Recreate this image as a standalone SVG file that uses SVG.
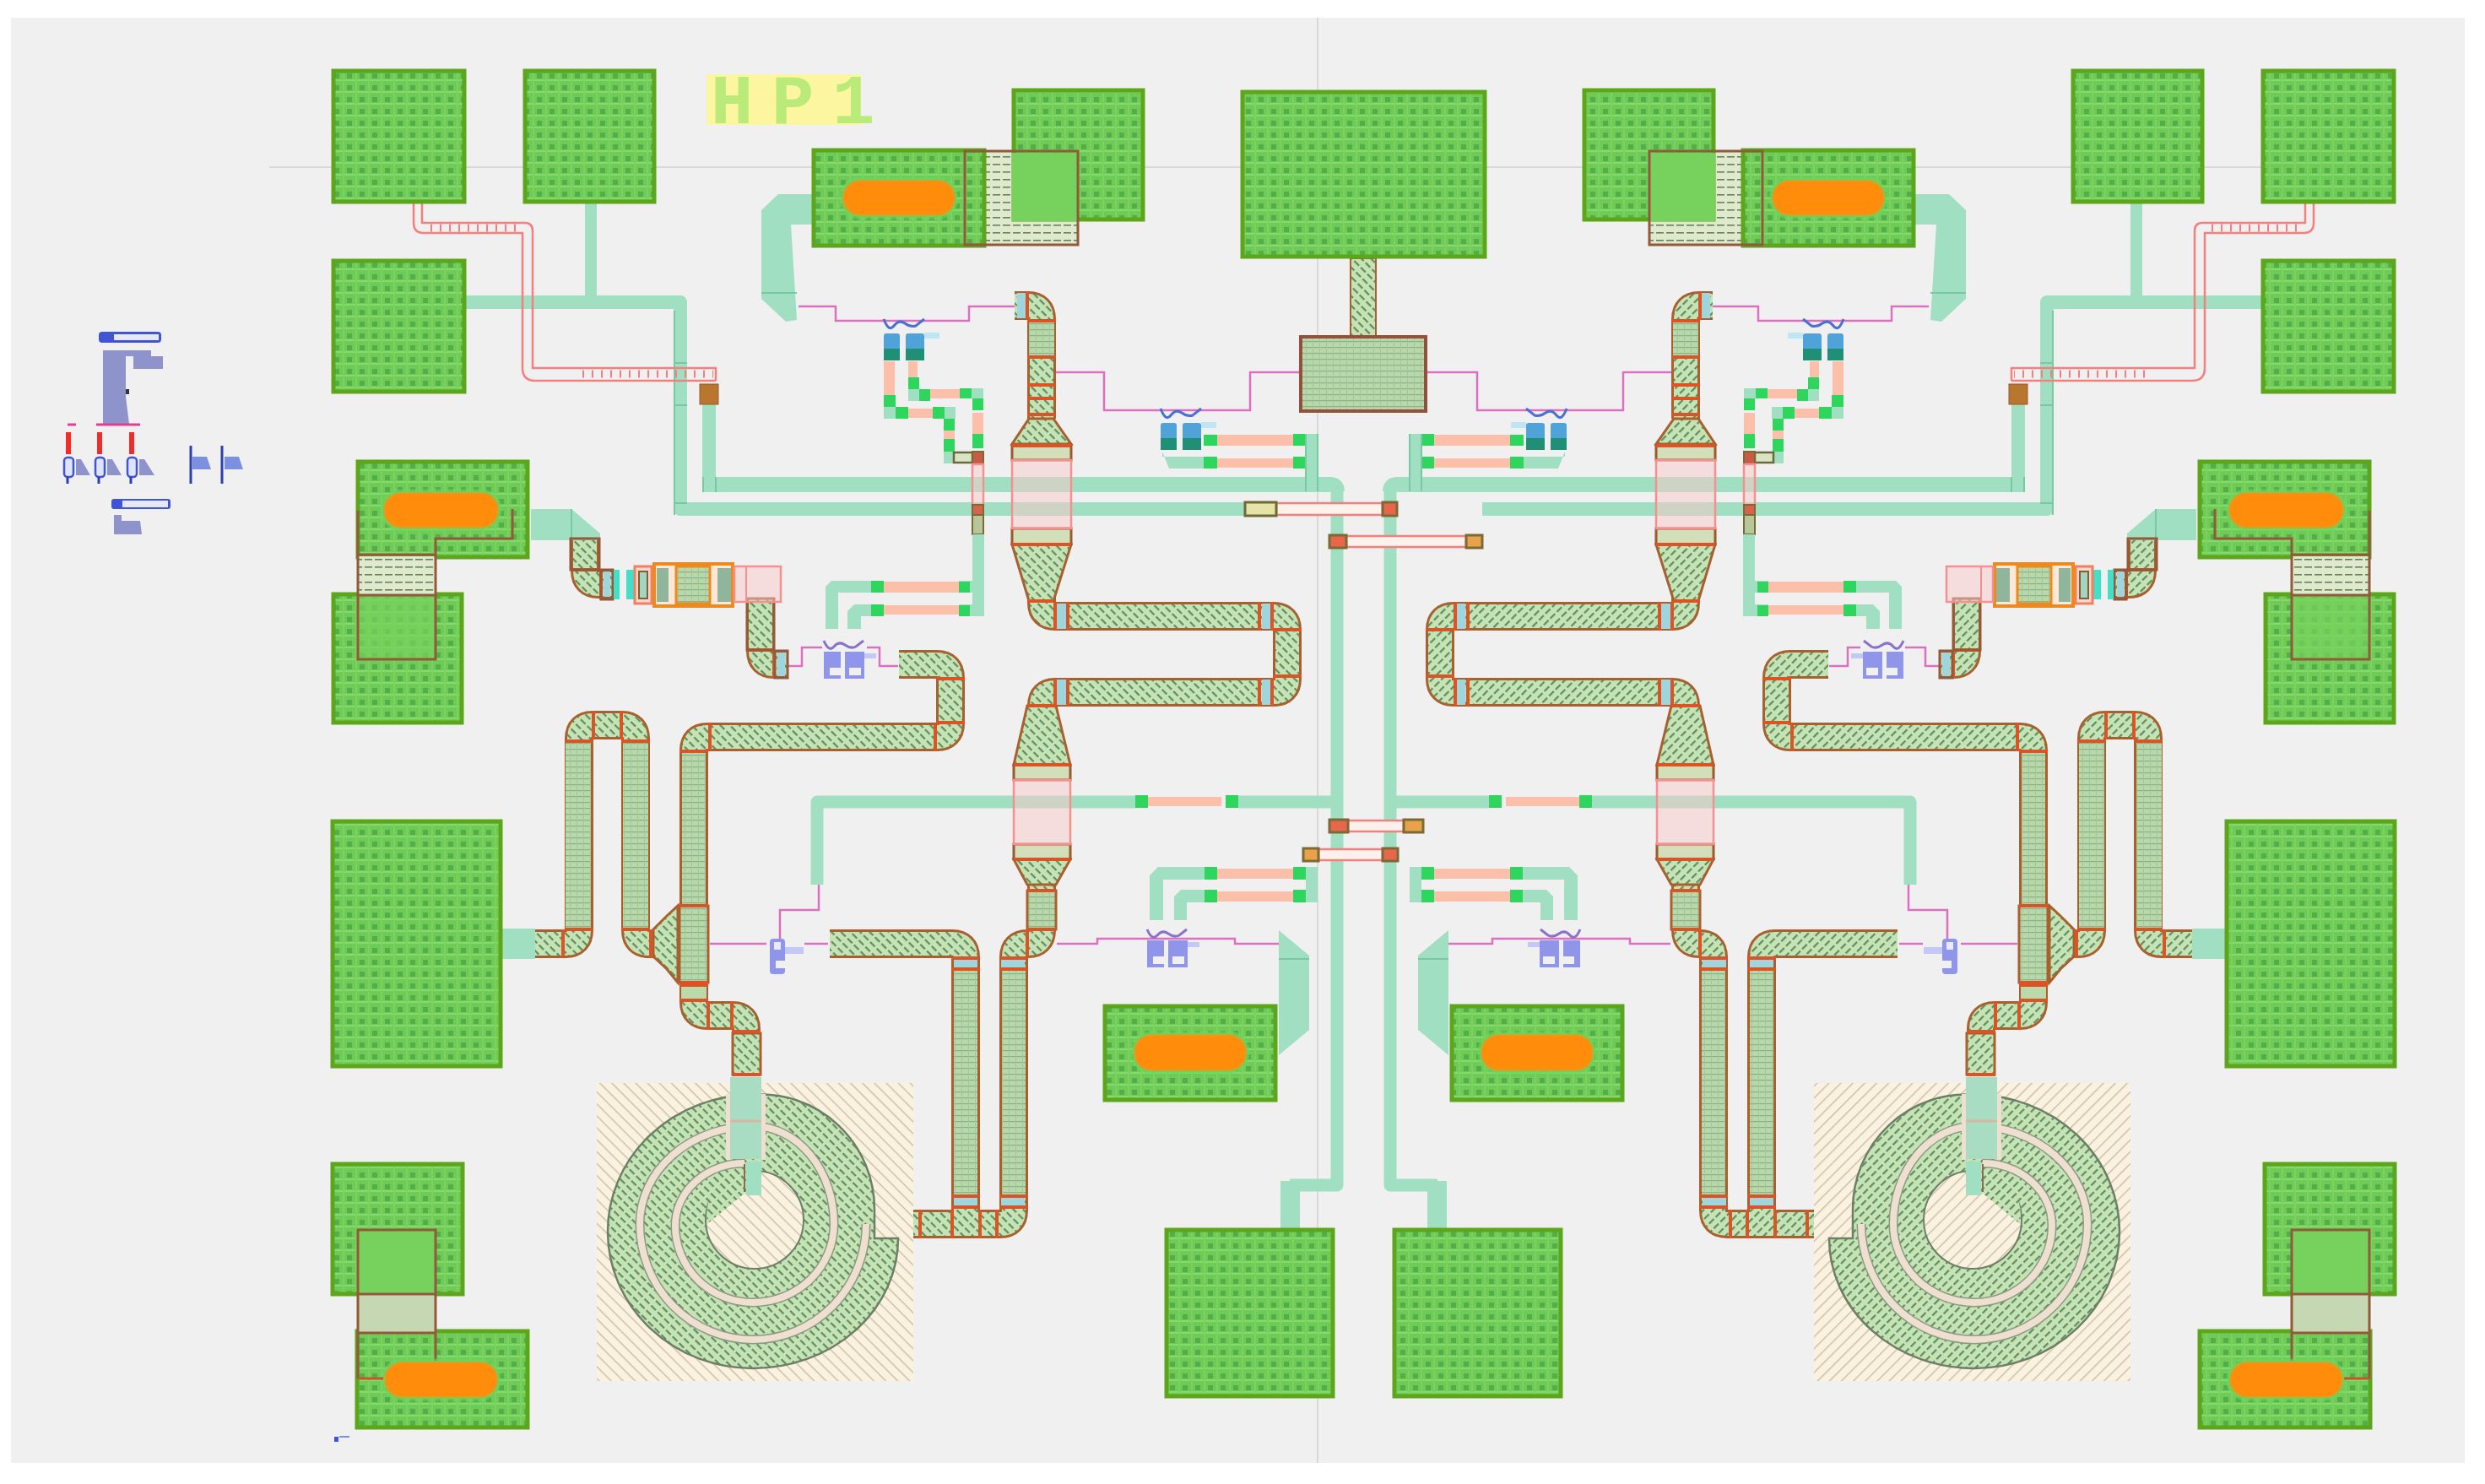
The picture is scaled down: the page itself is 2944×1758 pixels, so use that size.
<svg xmlns="http://www.w3.org/2000/svg" xmlns:xlink="http://www.w3.org/1999/xlink" width="2944" height="1758" viewBox="0 0 2944 1758">
<style>
.pad{fill:url(#p);stroke:#5da61b;stroke-width:5}
.pill{fill:#ff8c0a;stroke:#58e06a;stroke-width:5;stroke-opacity:.55}
.t{fill:#a0dfc1}
.ts{fill:none;stroke:#a0dfc1;stroke-linejoin:round}
.edge{fill:none;stroke:#77c9a2;stroke-width:2}
.gr{fill:#2ed65e}
.sa{fill:#fbbfaa}
.hatch{fill:url(#h);stroke:#a9602f;stroke-width:3}
.grid{fill:url(#g);stroke:#a9602f;stroke-width:3}
.div{stroke:#dc5426;stroke-width:4;fill:none}
.blu{fill:#9fd5dc}
.pk{fill:none;stroke:#dd6fc0;stroke-width:2.5}
.pw{fill:#fbc9c9;fill-opacity:.5;stroke:#f59090;stroke-width:2.5}
.band{fill:#d2dfb9;stroke:#9c5a2e;stroke-width:3}
.box{fill:none;stroke:#94593a;stroke-width:3}
.rail{fill:none;stroke:#f47f7f;stroke-width:2.5}
.rl{fill:#fdf1ec}
.rb{fill:#e8674a;stroke:#7a6a35;stroke-width:3}
.leg{fill:#8f93cc}
.lb{fill:#3f55d6}
</style>
<defs>
<pattern id="p" width="15" height="14" patternUnits="userSpaceOnUse">
<rect width="15" height="14" fill="#6fcb55"/><rect y="10" width="15" height="2" fill="#86da6c"/><rect x="1" width="2" height="14" fill="#7bd261"/><rect x="6" y="3" width="6" height="6" fill="#3f9a45" fill-opacity=".6"/>
</pattern>
<pattern id="h" width="11" height="8" patternUnits="userSpaceOnUse" patternTransform="rotate(45)">
<rect width="11" height="8" fill="#c6e3b5"/><rect y="3" width="8" height="2.2" fill="#5f8d60"/>
</pattern>
<pattern id="g" width="8" height="7" patternUnits="userSpaceOnUse">
<rect width="8" height="7" fill="#b8d8a9"/><rect y="5" width="8" height="1.2" fill="#8bb089"/><rect x="3" width="1" height="7" fill="#a4c79a"/>
</pattern>
<pattern id="sq" width="12" height="9" patternUnits="userSpaceOnUse">
<rect width="12" height="9" fill="#dfe9cc"/><rect y="5" width="9" height="1.6" fill="#6a7f62"/>
</pattern>
<pattern id="b" width="10" height="10" patternUnits="userSpaceOnUse" patternTransform="rotate(45)">
<rect width="10" height="10" fill="#fbf1df"/><rect y="4" width="10" height="1.4" fill="#c8bda6"/>
</pattern>
<g id="fetU">
<path d="M2 0 Q8 16 14 8 T27 5 T40 8 L50 0" fill="none" stroke="#4c6fd2" stroke-width="3"/>
<rect x="2" y="17" width="19" height="32" rx="3" fill="#4fa3d8"/><rect x="2" y="35" width="19" height="14" fill="#1f8f76"/>
<rect x="28" y="17" width="22" height="32" rx="3" fill="#4fa3d8"/><rect x="28" y="35" width="22" height="14" fill="#1f8f76"/>
<rect x="50" y="16" width="18" height="7" fill="#bfe6f5"/>
</g>
<g id="fetL">
<path d="M2 0 Q8 14 14 7 T27 5 T40 7 L49 0" fill="none" stroke="#8a72cc" stroke-width="3"/>
<rect x="2" y="13" width="20" height="32" fill="#8f95e8"/><rect x="27" y="13" width="23" height="32" fill="#8f95e8"/>
<rect x="9" y="32" width="13" height="9" fill="#f0f0f0"/><rect x="32" y="32" width="14" height="9" fill="#f0f0f0"/>
<rect x="50" y="15" width="14" height="6" fill="#c3c8f5"/>
</g>
<g id="tr" fill="none">
<path d="M634 1118 H670 Q686 1118 686 1102 V875 Q686 859 702 859 H737 Q753 859 753 875 V1102 Q753 1118 769 1118 H775"/>
<path d="M884 1273 V1219 Q884 1203 868 1203 H838 Q822 1203 822 1187 V889 Q822 873 838 873 H1110 Q1126 873 1126 857 V803 Q1126 787 1110 787 H1065"/>
<path d="M901 709 V771 Q901 787 917 787 H932"/>
<path d="M693 640 V676 Q693 692 709 692 H726"/>
<path d="M1202 362 H1218 Q1234 362 1234 378 V496"/>
<path d="M1234 700 V714 Q1234 730 1250 730 H1509 Q1525 730 1525 746 V804 Q1525 820 1509 820 H1250 Q1234 820 1234 836 V840"/>
<path d="M1234 1048 V1102 Q1234 1118 1218 1118 H1217 Q1201 1118 1201 1134 V1434 Q1201 1450 1185 1450 H1036"/>
<path d="M983 1118 H1128 Q1144 1118 1144 1134 V1450"/>
</g>
<g id="half">
<!-- teal buses -->
<g id="buses">
<path class="ts" stroke-width="16" d="M552 358 H806 V603 H1475"/>
<path class="ts" stroke-width="14" d="M700 241 V358"/>
<path class="ts" stroke-width="16" d="M840 479 V574"/>
<path class="ts" stroke-width="18" d="M833 574 H1576 Q1584 574 1584 582"/>
<path class="ts" stroke-width="15" d="M1584 575 V1404 H1528"/>
<rect class="t" x="1517" y="1399" width="23" height="56"/>
<path class="ts" stroke-width="15" d="M968 1048 V950 H1345"/>
<path class="ts" stroke-width="15" d="M1467 950 H1584"/>
<path class="t" d="M950 230 H963 V266 H937 L944 379 L931 381 L902 354 V249 L922 230 Z"/>
<path class="edge" d="M902 347 H944"/>
<path class="t" d="M595 1100 H634 V1136 H595 Z"/>
<path class="t" d="M629 603 H677 L711 632 V640 H629 Z"/>
<path class="edge" d="M677 603 V640"/>
<path class="edge" d="M799 368 V610 M799 596 H814 M799 480 H814 M799 430 H814 M833 565 V583 M848 565 V583"/>
</g>
<!-- pink feed lines -->
<path class="pk" d="M946 363 H990 V380 H1148 V363 H1202"/>
<path class="pk" d="M1251 441 H1308 V486 H1481 V441 H1541"/>
<path class="pk" d="M932 789 H950 V767 H974 M1027 767 H1042 V789 H1064"/>
<path class="pk" d="M841 1118 H908 M953 1118 H981 M924 1112 V1078 H970 V1048"/>
<path class="pk" d="M1252 1118 H1300 V1112 H1463 V1118 H1517"/>
<!-- top-left double rail -->
<g id="rail-tl">
<path class="rail" d="M490 209 V264 Q490 276 502 276 H619 V436 Q619 451 634 451 H848"/>
<path class="rail" d="M500 209 V264 H622 Q631 264 631 274 V436 H848 V451"/>
<path d="M510 270 H612 M690 443 H845" stroke="#f47f7f" stroke-width="9" stroke-dasharray="2 9" fill="none"/>
<rect x="829" y="455" width="22" height="24" fill="#b8762f" stroke="#9a5a28"/>
</g>
<!-- pads -->
<g id="pad-a"><rect class="pad" x="395" y="84" width="155" height="155"/></g>
<g id="pad-b"><rect class="pad" x="622" y="84" width="153" height="155"/></g>
<g id="pad-c"><rect class="pad" x="395" y="309" width="155" height="155"/></g>
<g id="pad-big"><rect class="pad" x="394" y="973" width="199" height="290"/></g>
<g id="pad-cs"><rect class="pad" x="1309" y="1192" width="202" height="111"/><rect class="pill" x="1342" y="1224" width="136" height="46" rx="22"/></g>
<g id="pad-bt"><rect class="pad" x="1382" y="1457" width="197" height="197"/></g>
<path class="t" d="M1515 1102 L1551 1132 V1220 L1515 1250 Z"/>
<path class="edge" d="M1515 1136 H1551"/>
<!-- orange pad upper left -->
<g id="pad-l1">
<rect class="pad" x="395" y="704" width="152" height="152"/>
<rect x="425" y="705" width="91" height="76" fill="#76d25c" fill-opacity=".7"/>
<rect class="pad" x="424" y="547" width="201" height="113"/>
<rect x="425" y="659" width="91" height="46" fill="url(#sq)"/>
<path class="box" d="M424 605 V781 H516 V638 H607 V603"/>
<path class="box" d="M424 657 H516 M424 705 H516" stroke="#5d8a30"/>
<rect class="pill" x="453" y="582" width="139" height="45" rx="22"/>
</g>
<!-- orange pad lower left -->
<g id="pad-l2">
<rect class="pad" x="394" y="1379" width="154" height="154"/>
<rect x="425" y="1457" width="90" height="76" fill="#76d25c"/>
<rect class="pad" x="423" y="1577" width="202" height="114"/>
<rect x="425" y="1533" width="91" height="46" fill="#c5d7b3"/>
<path class="box" d="M424 1633 V1457 H516 V1612 M424 1533 H516 M424 1579 H516"/>
<rect class="pill" x="454" y="1612" width="137" height="45" rx="22"/>
<path d="M424 1633 H454" stroke="#d0502a" stroke-width="3"/>
</g>
<!-- top orange pad -->
<g id="pad-t1">
<rect x="1168" y="179" width="109" height="111" fill="url(#sq)"/>
<rect class="pad" x="1201" y="107" width="153" height="153"/>
<rect class="pad" x="964" y="178" width="202" height="113"/>
<rect x="1199" y="181" width="78" height="81" fill="#76d25c"/>
<rect class="box" x="1143" y="179" width="134" height="111"/>
<rect class="pill" x="997" y="212" width="136" height="45" rx="22"/>
</g>
<!-- meander tracks -->
<g id="tracks">
<use xlink:href="#tr" href="#tr" stroke="#a9602f" stroke-width="34"/>
<use xlink:href="#tr" href="#tr" stroke="url(#h)" stroke-width="28"/>
<rect x="670" y="878" width="30" height="223" fill="url(#g)"/><rect x="738" y="878" width="30" height="223" fill="url(#g)"/>
<rect x="808" y="890" width="28" height="182" fill="url(#g)"/><rect x="1187" y="1148" width="28" height="268" fill="url(#g)"/><rect x="1130" y="1148" width="28" height="268" fill="url(#g)"/>
<rect x="1219" y="382" width="30" height="40" fill="url(#g)"/>
<path class="hatch" d="M774 1101 L790 1085 L803 1073 V1164 L790 1148 L774 1133 Z"/>
<rect class="grid" x="805" y="1073" width="34" height="91"/>
<rect x="807" y="1167" width="30" height="18" fill="#bcd9ac"/>
<rect class="hatch" x="868" y="1224" width="33" height="49"/>
<path class="hatch" d="M1219 496 H1248 L1269 526 H1199 Z"/>
<path class="hatch" d="M1199 645 H1269 L1248 712 H1219 Z"/>
<path class="hatch" d="M1217 836 H1251 L1268 906 H1201 Z"/>
<path class="hatch" d="M1201 1018 H1268 L1251 1048 H1217 Z"/>
<rect class="grid" x="1217" y="1055" width="34" height="46"/>
<rect class="band" x="1199" y="528" width="70" height="17"/><rect class="band" x="1199" y="626" width="70" height="19"/>
<rect class="band" x="1201" y="906" width="67" height="18"/><rect class="band" x="1201" y="1000" width="67" height="18"/>
<rect class="pw" x="1199" y="545" width="70" height="81"/><rect class="pw" x="1201" y="924" width="67" height="76"/>
<rect class="blu" x="1205" y="347" width="10" height="30"/>
<rect class="blu" x="1252" y="715" width="11" height="30"/><rect class="blu" x="1495" y="715" width="10" height="30"/>
<rect class="blu" x="1252" y="805" width="11" height="30"/><rect class="blu" x="1495" y="805" width="10" height="30"/>
<rect class="blu" x="1130" y="1135" width="28" height="12"/><rect class="blu" x="1186" y="1135" width="28" height="12"/>
<rect class="blu" x="1130" y="1418" width="28" height="12"/><rect class="blu" x="1186" y="1418" width="28" height="12"/>
<rect class="blu" x="921" y="773" width="9" height="28"/><rect class="blu" x="715" y="677" width="8" height="30"/>
<path class="div" d="M670 878 H702 M736 878 H770 M703 842 V876 M736 842 V876 M670 1101 H702 M736 1101 H770 M667 1101 V1135 M771 1101 V1135"/>
<path class="div" d="M805 890 H839 M841 856 V890 M805 1073 H839 M805 1164 H839 M805 1167 H839 M805 1185 H839 M839 1186 V1220 M867 1186 V1220 M867 1222 H901 M867 1273 H901 M1108 857 V890 M1109 856 H1143 M1109 804 H1143"/>
<path class="div" d="M1217 423 H1251 M1217 456 H1251 M1217 472 H1251 M1217 491 H1251 M1217 380 H1251 M1217 345 V379 M1217 712 H1248 M1250 713 V747 M1265 713 V747 M1492 713 V747 M1507 713 V747 M1508 746 H1542 M1508 801 H1542 M1492 803 V837 M1507 803 V837 M1250 803 V837 M1265 803 V837 M1217 836 H1251"/>
<path class="div" d="M1199 528 H1269 M1199 645 H1269 M1201 906 H1268 M1201 1018 H1268 M1217 1055 H1251 M1217 1101 H1251 M1217 1135 H1185 M1185 1148 H1217 M1217 1101 V1135 M1127 1135 H1161 M1127 1148 H1161 M1127 1417 H1161 M1127 1430 H1161 M1184 1417 H1218 M1184 1430 H1218 M1090 1433 V1467 M1128 1433 V1467 M1161 1433 V1467 M1181 1433 V1467"/>
<path class="div" d="M676 675 H710 M712 675 V710 M885 770 H917 M917 771 V803"/>
<rect class="box" x="676" y="638" width="34" height="37"/><rect class="box" x="885" y="709" width="32" height="61"/>
<rect class="box" x="918" y="771" width="15" height="32"/><rect class="box" x="712" y="675" width="14" height="35"/>
</g>
<!-- input block -->
<g id="input">
<rect x="727" y="675" width="7" height="35" fill="#42e0c8"/><rect x="742" y="675" width="9" height="35" fill="#42e0c8"/>
<rect x="752" y="671" width="20" height="44" fill="#fbd8cc" stroke="#f47f60" stroke-width="3"/><rect x="757" y="677" width="10" height="32" fill="#9fd7c0" stroke="#8a5a30" stroke-width="2"/>
<rect x="775" y="668" width="93" height="50" fill="#fde8d8" stroke="#ed8a1f" stroke-width="4"/>
<rect x="778" y="673" width="14" height="40" fill="#8fb59c"/><rect x="801" y="671" width="40" height="44" fill="url(#g)" stroke="#ed8a1f" stroke-width="3"/><rect x="850" y="673" width="16" height="40" fill="#8fb59c"/>
<rect class="pw" x="870" y="671" width="55" height="42"/><path d="M884 671 V713" stroke="#f59090" stroke-width="2"/>
</g>
<!-- spiral -->
<g id="spiral">
<rect x="707" y="1283" width="375" height="353" fill="url(#b)"/>
<path d="M1064 1467 A172 154 0 0 1 892 1621 A172 162 0 0 1 720 1459 A172 162 0 0 1 892 1297 A134 136 0 0 1 1036 1433 L1036 1467 Z" fill="url(#h)" stroke="#6d7f66" stroke-width="2.5"/>
<circle cx="894" cy="1445" r="58" fill="url(#b)" stroke="#6d7f66" stroke-width="2"/>
<path d="M884 1379 A56 62 0 0 0 838 1450 L884 1412 Z" fill="url(#h)"/>
<path d="M882 1378 A82 74 0 0 0 800 1452 A92 91 0 0 0 892 1543 A96 93 0 0 0 988 1450 A96 116 0 0 0 892 1334 A134 116 0 0 0 758 1450 A134 137 0 0 0 892 1587 A134 137 0 0 0 1026 1450" fill="none" stroke="#8d9b80" stroke-width="11"/>
<path d="M882 1378 A82 74 0 0 0 800 1452 A92 91 0 0 0 892 1543 A96 93 0 0 0 988 1450 A96 116 0 0 0 892 1334 A134 116 0 0 0 758 1450 A134 137 0 0 0 892 1587 A134 137 0 0 0 1026 1450" fill="none" stroke="#efdfd0" stroke-width="8"/>
<rect x="860" y="1296" width="5" height="78" fill="#efdfd0"/><rect x="902" y="1296" width="5" height="78" fill="#efdfd0"/>
<rect x="865" y="1276" width="37" height="97" fill="#a8dcc3"/>
<rect x="884" y="1376" width="18" height="40" fill="#a0dfc1"/>
<path d="M882 1379 V1412" stroke="#8a6a4a" stroke-width="2"/>
<path d="M865 1328 H902" stroke="#d8b8a0" stroke-width="3"/>
</g>
<!-- transistors and bias networks -->
<g id="bias-1">
<rect class="sa" x="1047" y="428" width="13" height="40"/><rect class="sa" x="1076" y="428" width="11" height="19"/>
<rect class="gr" x="1047" y="468" width="14" height="15"/><rect class="gr" x="1076" y="447" width="13" height="15"/>
<rect class="t" x="1047" y="482" width="14" height="14"/><rect class="gr" x="1061" y="482" width="15" height="14"/>
<rect class="sa" x="1076" y="484" width="29" height="11"/>
<rect class="gr" x="1105" y="482" width="14" height="14"/><rect class="t" x="1119" y="482" width="13" height="14"/>
<rect class="gr" x="1118" y="496" width="13" height="14"/><rect class="sa" x="1118" y="510" width="13" height="10"/><rect class="gr" x="1118" y="520" width="13" height="15"/><rect class="t" x="1118" y="535" width="13" height="14"/>
<rect class="t" x="1076" y="461" width="13" height="14"/><rect class="gr" x="1089" y="461" width="13" height="14"/>
<rect class="sa" x="1102" y="461" width="35" height="11"/>
<rect class="gr" x="1137" y="460" width="14" height="12"/><rect class="t" x="1151" y="460" width="14" height="12"/>
<rect class="gr" x="1152" y="472" width="13" height="14"/><rect class="sa" x="1152" y="489" width="13" height="25"/><rect class="gr" x="1152" y="514" width="13" height="17"/>
<rect x="1130" y="536" width="22" height="12" fill="#d9e4c4" stroke="#6d6a3a" stroke-width="2.5"/><rect x="1152" y="535" width="13" height="15" fill="#c95a44" stroke="#7a6a35" stroke-width="2"/>
<rect class="pw" x="1152" y="550" width="13" height="48"/>
<rect x="1152" y="598" width="13" height="12" fill="#d9634a" stroke="#7a6a35" stroke-width="2"/><rect x="1152" y="610" width="13" height="23" fill="#b7c79a" stroke="#7a6a35" stroke-width="2"/>
<rect class="t" x="1152" y="633" width="14" height="97"/>
<use xlink:href="#fetU" href="#fetU" x="1045" y="378"/>
</g>
<g id="bias-2">
<rect class="t" x="1136" y="688" width="29" height="14"/><rect class="t" x="1136" y="716" width="29" height="14"/>
<rect class="gr" x="1136" y="689" width="13" height="13"/><rect class="gr" x="1136" y="717" width="13" height="13"/>
<rect class="sa" x="1047" y="689" width="89" height="13"/><rect class="sa" x="1047" y="717" width="89" height="11"/>
<rect class="gr" x="1032" y="688" width="15" height="14"/><rect class="gr" x="1032" y="716" width="15" height="14"/>
<path class="t" d="M985 688 H1032 V702 H993 V745 H978 V695 Z"/>
<path class="t" d="M1012 716 H1032 V730 H1020 V745 H1004 V724 Z"/>
<use xlink:href="#fetL" href="#fetL" x="974" y="759"/>
</g>
<g id="bias-3">
<rect class="gr" x="1426" y="515" width="16" height="13"/><rect class="sa" x="1442" y="515" width="90" height="13"/><rect class="gr" x="1532" y="514" width="17" height="14"/>
<rect class="t" x="1549" y="514" width="12" height="14"/>
<path class="t" d="M1377 535 L1385 555 H1426 V541 H1377 Z"/>
<rect class="gr" x="1426" y="541" width="16" height="14"/><rect class="sa" x="1442" y="543" width="90" height="11"/><rect class="gr" x="1532" y="541" width="17" height="14"/>
<rect class="t" x="1547" y="514" width="14" height="68"/>
<path class="edge" d="M1547 514 V582 M1561 514 V582"/>
<use xlink:href="#fetU" href="#fetU" x="1373" y="484"/>
</g>
<g id="bias-4">
<path class="t" d="M1372 1027 H1427 V1042 H1378 V1090 H1362 V1037 Z"/>
<path class="t" d="M1399 1054 H1427 V1069 H1406 V1090 H1391 V1062 Z"/>
<rect class="gr" x="1427" y="1027" width="15" height="15"/><rect class="gr" x="1427" y="1054" width="15" height="15"/>
<rect class="sa" x="1442" y="1029" width="90" height="12"/><rect class="sa" x="1442" y="1056" width="90" height="12"/>
<rect class="gr" x="1532" y="1027" width="15" height="15"/><rect class="gr" x="1532" y="1054" width="15" height="15"/>
<rect class="t" x="1547" y="1027" width="14" height="42"/>
<use xlink:href="#fetL" href="#fetL" x="1357" y="1101"/>
</g>
<g id="bias-5">
<rect class="gr" x="1345" y="942" width="15" height="15"/><rect class="sa" x="1360" y="944" width="87" height="11"/><rect class="gr" x="1452" y="942" width="15" height="15"/>
</g>
<g id="fet-6">
<rect x="912" y="1112" width="18" height="42" rx="4" fill="#8f95e8"/><rect x="917" y="1116" width="8" height="9" fill="#e8eaff"/><rect x="930" y="1122" width="22" height="8" fill="#c3c8f5"/><rect x="919" y="1138" width="11" height="9" fill="#f0f0f0"/>
</g>
</g>
</defs>
<rect width="2944" height="1758" fill="#fff"/>
<rect id="panel" x="13" y="21" width="2907" height="1712" fill="#f0f0f0"/>
<path d="M319 198 H2700 M1561 21 V1733" stroke="#d9d9d9" stroke-width="2" fill="none"/>
<g id="hp1"><rect x="837" y="88" width="183" height="60" fill="#fdf6a0"/>
<text x="842" y="146" font-family="'Liberation Mono',monospace" font-weight="700" font-size="84" letter-spacing="-14.4" fill="#b9ea7a">H P 1</text></g>
<use xlink:href="#half" href="#half"/>
<use xlink:href="#half" href="#half" transform="translate(3231 0) scale(-1 1)"/>
<g id="pad-center">
<rect x="1600" y="306" width="30" height="92" fill="url(#h)" stroke="#a9602f" stroke-width="2"/>
<rect class="pad" x="1472" y="109" width="287" height="195"/>
<rect x="1541" y="399" width="148" height="88" fill="url(#g)" stroke="#94503a" stroke-width="4"/>
<path class="pk" d="M1541 441 H1541 M1690 441 H1690"/>
</g>
<g id="rails">
<rect class="rl" x="1512" y="596" width="126" height="14"/><rect class="rail" x="1512" y="596" width="126" height="14"/>
<rect x="1475" y="595" width="37" height="16" fill="#e6e3a8" stroke="#6e6a35" stroke-width="3"/><rect class="rb" x="1638" y="595" width="17" height="16"/>
<rect class="rl" x="1595" y="635" width="142" height="13"/><rect class="rail" x="1595" y="635" width="142" height="13"/>
<rect class="rb" x="1575" y="634" width="20" height="15"/><rect x="1737" y="634" width="19" height="15" fill="#e8a24a" stroke="#7a6a35" stroke-width="3"/>
<rect class="rl" x="1597" y="972" width="66" height="13"/><rect class="rail" x="1597" y="972" width="66" height="13"/>
<rect class="rb" x="1575" y="971" width="22" height="15"/><rect x="1663" y="971" width="23" height="15" fill="#e8a24a" stroke="#7a6a35" stroke-width="3"/>
<rect class="rl" x="1562" y="1006" width="76" height="13"/><rect class="rail" x="1562" y="1006" width="76" height="13"/>
<rect x="1544" y="1005" width="18" height="15" fill="#e8a24a" stroke="#7a6a35" stroke-width="3"/><rect class="rb" x="1638" y="1005" width="18" height="15"/>
</g>
<g id="legend">
<rect class="lb" x="117" y="393" width="74" height="13" rx="4"/><rect x="135" y="396" width="53" height="7" fill="#e6e8f8"/>
<path class="leg" d="M122 415 H179 V422 H193 V437 H158 V422 H149 V470 L153 502 H122 Z"/>
<rect x="149" y="461" width="4" height="6" fill="#333"/>
<rect x="78" y="512" width="6" height="26" fill="#f22b2b"/><rect x="115" y="512" width="6" height="26" fill="#f22b2b"/><rect x="153" y="512" width="6" height="26" fill="#f22b2b"/>
<path d="M114 503 H166 M80 503 H90" stroke="#e0408f" stroke-width="3" fill="none"/>
<rect x="76" y="542" width="11" height="23" rx="4" fill="#dfe3fb" stroke="#3f55d6" stroke-width="2.5"/><rect x="113" y="542" width="11" height="23" rx="4" fill="#dfe3fb" stroke="#3f55d6" stroke-width="2.5"/><rect x="151" y="542" width="11" height="23" rx="4" fill="#dfe3fb" stroke="#3f55d6" stroke-width="2.5"/>
<path class="leg" d="M90 544 H96 L107 563 H90 Z M127 544 H133 L144 563 H127 Z M165 544 H171 L183 563 H165 Z" fill="#7c90e0"/>
<path d="M80 565 V573 M117 565 V573 M155 565 V573 M226 528 V573 M263 528 V573" stroke="#2f3fb0" stroke-width="3" fill="none"/>
<path d="M228 541 H245 L250 556 H228 Z M266 541 H283 L288 556 H266 Z" fill="#7c90e0"/>
<rect class="lb" x="132" y="591" width="70" height="12" rx="3"/><rect x="145" y="593" width="54" height="8" fill="#e6e8f8"/>
<path class="leg" d="M135 610 H144 V617 H166 L168 633 H135 Z"/>
</g>
<rect x="396" y="1702" width="5" height="6" fill="#3f55d6"/><rect x="402" y="1701" width="12" height="2" fill="#7c90e0"/>
</svg>
